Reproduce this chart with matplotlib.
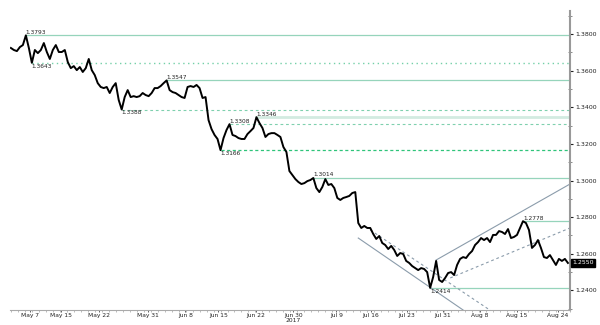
import numpy as np
import matplotlib
matplotlib.use("Agg")
import matplotlib.pyplot as plt
from matplotlib.ticker import MultipleLocator, FormatStrFormatter

# GBP/USD-style price path, one value per bar
price = [
    1.3724, 1.3713, 1.3707, 1.3729, 1.3740, 1.3793, 1.3724, 1.3643, 1.3713, 1.3696,
    1.3713, 1.3751, 1.3702, 1.3664, 1.3713, 1.3740, 1.3702, 1.3702, 1.3713, 1.3647,
    1.3614, 1.3625, 1.3603, 1.3620, 1.3593, 1.3614, 1.3664, 1.3603, 1.3576, 1.3532,
    1.3511, 1.3505, 1.3511, 1.3478, 1.3511, 1.3532, 1.3440, 1.3388, 1.3456, 1.3494,
    1.3456, 1.3461, 1.3456, 1.3461, 1.3478, 1.3467, 1.3461, 1.3478, 1.3505, 1.3505,
    1.3516, 1.3532, 1.3547, 1.3494, 1.3483, 1.3478, 1.3467, 1.3456, 1.3451, 1.3511,
    1.3516, 1.3511, 1.3522, 1.3505, 1.3451, 1.3456, 1.3330, 1.3281, 1.3249, 1.3227,
    1.3166, 1.3232, 1.3276, 1.3308, 1.3249, 1.3243, 1.3232, 1.3227, 1.3227, 1.3254,
    1.3270, 1.3287, 1.3346, 1.3314, 1.3287, 1.3238, 1.3254, 1.3259, 1.3259, 1.3249,
    1.3238, 1.3183, 1.3156, 1.3052, 1.3030, 1.3008, 1.2992, 1.2981, 1.2986, 1.2997,
    1.3003, 1.3014, 1.2959, 1.2937, 1.2965, 1.3008, 1.2976, 1.2981, 1.2959, 1.2905,
    1.2894, 1.2905, 1.2910, 1.2916, 1.2932, 1.2937, 1.2768, 1.2741, 1.2752, 1.2741,
    1.2741, 1.2708, 1.2681, 1.2697, 1.2659, 1.2648, 1.2626, 1.2643, 1.2621, 1.2588,
    1.2604, 1.2599, 1.2561, 1.2550, 1.2533, 1.2522, 1.2511, 1.2522, 1.2517, 1.2500,
    1.2414, 1.2473, 1.2561, 1.2457, 1.2446, 1.2468, 1.2495, 1.2500, 1.2484, 1.2539,
    1.2572, 1.2582, 1.2577, 1.2599, 1.2615, 1.2648, 1.2664, 1.2686, 1.2675, 1.2686,
    1.2664, 1.2703, 1.2703, 1.2724, 1.2719, 1.2708, 1.2735, 1.2686, 1.2692, 1.2703,
    1.2741, 1.2778, 1.2768, 1.2730, 1.2632, 1.2648, 1.2675, 1.2632, 1.2582, 1.2577,
    1.2593, 1.2566, 1.2539, 1.2572, 1.2561, 1.2572, 1.2550,
]

# swing levels: value, bar where it was set, label side, line style
levels = [1.3793, 1.3643, 1.3388, 1.3547, 1.3166, 1.3308, 1.3346, 1.3014, 1.2414, 1.2778]
level_idx = [5, 7, 37, 52, 70, 73, 82, 101, 140, 171]
level_side = ['above', 'below', 'below', 'above', 'below', 'above', 'above', 'above', 'below', 'above']
level_kind = ['solid', 'dotted', 'dashed', 'solid', 'bright', 'dashed', 'pale', 'solid', 'solid', 'solid']

# channel lines (bar, price) pairs
down_solid = [(116, 1.2686), (151, 1.2293)]
down_dash = [(120, 1.2730), (162, 1.2270)]
up_solid = [(142, 1.2566), (186.7, 1.2981)]
up_dash = [(146.7, 1.2468), (186.7, 1.2741)]

tick_labels = ['May 7', 'May 15', 'May 22', 'May 31', 'Jun 8', 'Jun 15', 'Jun 22', 'Jun 30',
               'Jul 9', 'Jul 16', 'Jul 23', 'Jul 31', 'Aug 8', 'Aug 15', 'Aug 24']
tick_pos = [6.3, 16.7, 29.3, 45.7, 58.3, 69.3, 81.7, 94.3, 108.7, 120.3, 132.3, 144.3, 156.7, 169, 182.7]

styles = {
    'solid': dict(color='#96d4bb', lw=0.9, ls='-'),
    'dotted': dict(color='#74d0a8', lw=1.0, ls=(0, (1, 2.5))),
    'dashed': dict(color='#7fd0ae', lw=0.8, ls=(0, (2.5, 2.5))),
    'bright': dict(color='#2fc47a', lw=0.9, ls=(0, (2.5, 2))),
    'pale': dict(color='#d3ebe1', lw=2.0, ls='-'),
}

fig = plt.figure(figsize=(6, 3.25), dpi=100)
ax = fig.add_axes([10 / 600, 15 / 325, 560 / 600, 299 / 325])

x = np.arange(len(price))
xmax = 186.7

for lv, i, side, kind in zip(levels, level_idx, level_side, level_kind):
    ax.plot([i, xmax], [lv, lv], zorder=1, **styles[kind])
    va = 'bottom' if side == 'above' else 'top'
    off = 0.0003 if side == 'above' else -0.0004
    ax.text(i, lv + off, f"{lv:.4f}", fontsize=4.2, ha='left', va=va, color='#222222', zorder=4)

trend_col = '#8b9cab'
for seg, ls in [(down_solid, '-'), (down_dash, (0, (2.5, 2.5))), (up_solid, '-'), (up_dash, (0, (2.5, 2.5)))]:
    xs, ys = zip(*seg)
    ax.plot(xs, ys, color=trend_col, lw=0.8, ls=ls, zorder=2)

ax.plot(x, price, color='black', lw=1.4, zorder=3)

ax.set_xlim(-0.3, xmax)
ax.set_ylim(1.2293, 1.3926)

for s in ['left', 'top']:
    ax.spines[s].set_visible(False)
ax.spines['right'].set_color('#999999')
ax.spines['right'].set_linewidth(1.5)
ax.spines['bottom'].set_color('#aaaaaa')
ax.spines['bottom'].set_linewidth(0.8)

ax.yaxis.tick_right()
ax.yaxis.set_major_locator(MultipleLocator(0.02))
ax.yaxis.set_minor_locator(MultipleLocator(0.01))
ax.yaxis.set_major_formatter(FormatStrFormatter('%.4f'))
ax.tick_params(axis='y', which='major', labelsize=4.5, length=2, width=0.8, pad=1.5,
               colors='#222222', direction='out')
ax.tick_params(axis='y', which='minor', length=3, width=0.6, direction='inout', color='#777777')

ax.set_xticks(tick_pos)
ax.set_xticklabels(tick_labels)
ax.xaxis.set_minor_locator(MultipleLocator(7 / 3))
ax.tick_params(axis='x', which='major', labelsize=4.3, length=1.5, width=0.5, pad=1.0,
               colors='#222222', direction='out')
ax.tick_params(axis='x', which='minor', length=1.5, width=0.4, color='#888888')
ax.text(tick_pos[7], -0.027, '2017', transform=ax.get_xaxis_transform(), fontsize=4.3,
        ha='center', va='top', color='#222222')

# last price tag
ax.text(1.004, price[-1], f"{price[-1]:.4f}", transform=ax.get_yaxis_transform(),
        fontsize=4.5, ha='left', va='center', color='white', zorder=5,
        bbox=dict(boxstyle='square,pad=0.25', fc='black', ec='black'))

fig.savefig('out.png', dpi=100)
